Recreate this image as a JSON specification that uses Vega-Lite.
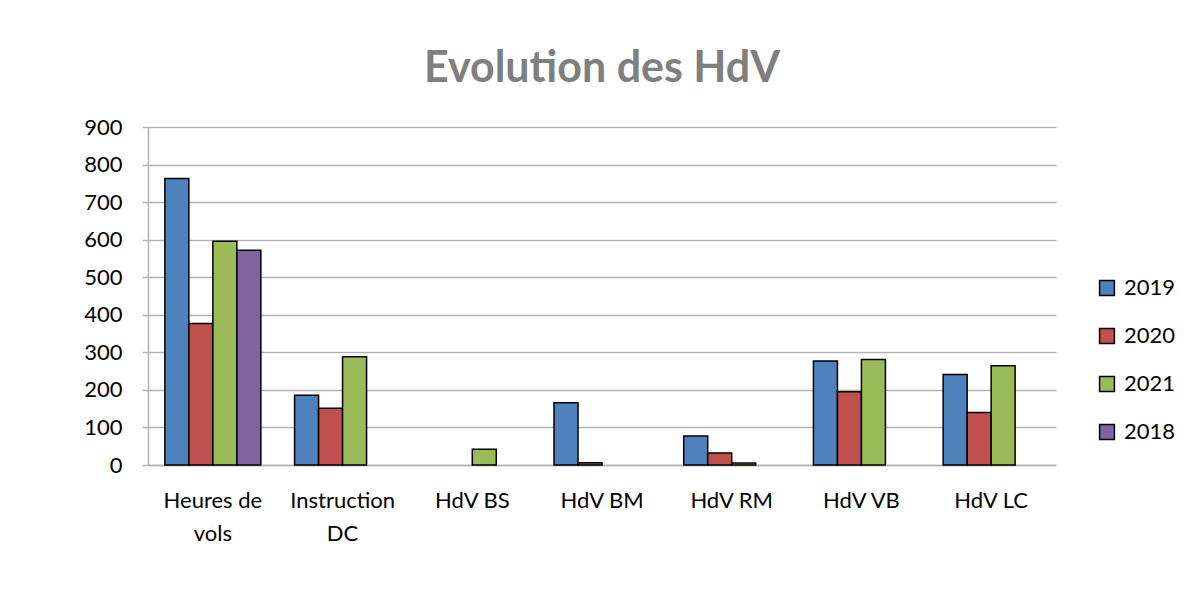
{
  "$schema": "https://vega.github.io/schema/vega-lite/v6.json",
  "width": 908,
  "height": 338,
  "autosize": {"type": "none"},
  "padding": {"left": 148, "top": 127, "right": 140, "bottom": 147},
  "background": "white",
  "title": {
    "text": "Evolution des HdV",
    "font": "Lato",
    "fontSize": 43,
    "fontWeight": "bold",
    "color": "#7F7F7F",
    "anchor": "middle",
    "offset": 25
  },
  "data": {
    "values": [
      {"cat": "Heures de vols", "year": "2019", "value": 763},
      {"cat": "Heures de vols", "year": "2020", "value": 377},
      {"cat": "Heures de vols", "year": "2021", "value": 596},
      {"cat": "Heures de vols", "year": "2018", "value": 572},
      {"cat": "Instruction DC", "year": "2019", "value": 186},
      {"cat": "Instruction DC", "year": "2020", "value": 151},
      {"cat": "Instruction DC", "year": "2021", "value": 288},
      {"cat": "HdV BS", "year": "2021", "value": 42},
      {"cat": "HdV BM", "year": "2019", "value": 166},
      {"cat": "HdV BM", "year": "2020", "value": 6},
      {"cat": "HdV RM", "year": "2019", "value": 77},
      {"cat": "HdV RM", "year": "2020", "value": 32},
      {"cat": "HdV RM", "year": "2021", "value": 5},
      {"cat": "HdV VB", "year": "2019", "value": 277},
      {"cat": "HdV VB", "year": "2020", "value": 195},
      {"cat": "HdV VB", "year": "2021", "value": 281},
      {"cat": "HdV LC", "year": "2019", "value": 241},
      {"cat": "HdV LC", "year": "2020", "value": 140},
      {"cat": "HdV LC", "year": "2021", "value": 264}
    ]
  },
  "mark": {"type": "bar", "stroke": "black", "strokeWidth": 1.5},
  "encoding": {
    "x": {
      "field": "cat",
      "type": "nominal",
      "sort": ["Heures de vols", "Instruction DC", "HdV BS", "HdV BM", "HdV RM", "HdV VB", "HdV LC"],
      "scale": {"paddingInner": 0.26, "paddingOuter": 0.13},
      "axis": {
        "title": null,
        "labelAngle": 0,
        "labelFont": "Lato",
        "labelFontSize": 22,
        "labelColor": "black",
        "labelPadding": 25,
        "labelLineHeight": 33,
        "labelBaseline": "top",
        "ticks": false,
        "domainColor": "#b3b3b3",
        "domainWidth": 1.5,
        "labelExpr": "datum.label == 'Heures de vols' ? ['Heures de', 'vols'] : datum.label == 'Instruction DC' ? ['Instruction', 'DC'] : datum.label"
      }
    },
    "xOffset": {
      "field": "year",
      "type": "nominal",
      "scale": {"domain": ["2019", "2020", "2021", "2018"], "paddingInner": 0, "paddingOuter": 0}
    },
    "y": {
      "field": "value",
      "type": "quantitative",
      "scale": {"domain": [0, 900], "nice": false},
      "axis": {
        "title": null,
        "values": [0, 100, 200, 300, 400, 500, 600, 700, 800, 900],
        "labelFont": "Lato",
        "labelFontSize": 22,
        "labelColor": "black",
        "labelPadding": 20,
        "tickSize": 6,
        "tickColor": "#b3b3b3",
        "tickWidth": 1.5,
        "domainColor": "#b3b3b3",
        "domainWidth": 1.5,
        "gridColor": "#b3b3b3",
        "gridWidth": 1.5
      }
    },
    "color": {
      "field": "year",
      "type": "nominal",
      "scale": {"domain": ["2019", "2020", "2021", "2018"], "range": ["#4F81BD", "#C0504D", "#9BBB59", "#8064A2"]},
      "legend": {
        "title": null,
        "orient": "none",
        "legendX": 948,
        "legendY": 150,
        "symbolType": "square",
        "symbolSize": 220,
        "symbolStrokeColor": "black",
        "symbolStrokeWidth": 1.5,
        "labelFont": "Lato",
        "labelFontSize": 22,
        "labelColor": "black",
        "labelOffset": 6,
        "rowPadding": 26
      }
    }
  },
  "config": {"view": {"stroke": null}}
}
